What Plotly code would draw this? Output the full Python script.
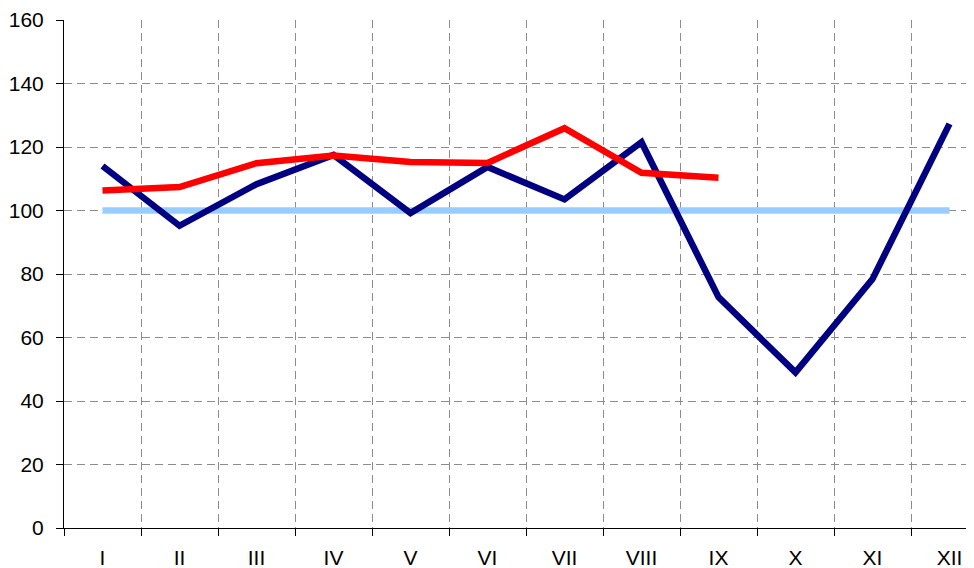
import plotly.graph_objects as go

months = ["I", "II", "III", "IV", "V", "VI", "VII", "VIII", "IX", "X", "XI", "XII"]
navy_values = [114.0, 95.2, 108.3, 117.5, 99.2, 113.7, 103.5, 121.5, 72.7, 49.0, 78.4, 127.3]
red_values = [106.3, 107.4, 114.9, 117.3, 115.3, 115.0, 125.9, 111.9, 110.3]
base_values = [100] * 12

fig = go.Figure()
fig.add_trace(go.Scatter(x=months, y=base_values, mode="lines",
                         line=dict(color="#99CCFF", width=6.5), showlegend=False))
fig.add_trace(go.Scatter(x=months, y=navy_values, mode="lines",
                         line=dict(color="#000080", width=6.5), showlegend=False))
fig.add_trace(go.Scatter(x=months[:len(red_values)], y=red_values, mode="lines",
                         line=dict(color="#FF0000", width=6.5), showlegend=False))

fig.update_layout(
    width=974, height=568,
    margin=dict(l=56, r=0, t=12, b=48),
    paper_bgcolor="white", plot_bgcolor="white",
    font=dict(family="Liberation Sans, Arial, sans-serif", size=21, color="black"),
    showlegend=False,
)
fig.update_xaxes(
    type="category", categoryorder="array", categoryarray=months,
    range=[-0.5, -0.5 + 918 / 77],
    tickson="boundaries", ticks="outside", ticklen=7, tickcolor="black",
    showline=True, linecolor="black", linewidth=1,
    showgrid=True, gridcolor="#8C8C8C", griddash="8px,5px", gridwidth=1,
    ticklabelstandoff=11,
)
fig.update_yaxes(
    range=[0, 160], tick0=0, dtick=20,
    ticks="outside", ticklen=7, tickcolor="black",
    showline=True, linecolor="black", linewidth=1,
    showgrid=True, gridcolor="#8C8C8C", griddash="8px,5px", gridwidth=1,
    zeroline=False, ticklabelstandoff=8,
)

fig.write_html("out.html")
